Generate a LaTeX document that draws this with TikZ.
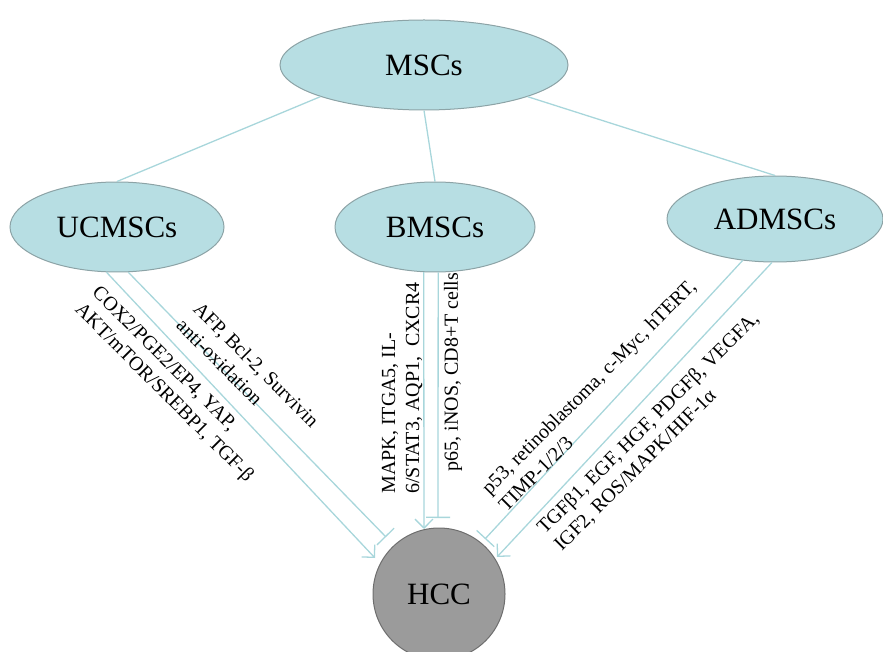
\documentclass[tikz,border=0pt]{standalone}
\usepackage{fontspec}
\setmainfont{Liberation Serif}
\usetikzlibrary{arrows.meta,shapes.geometric,calc}
\definecolor{efill}{HTML}{B7DEE3}
\definecolor{edraw}{HTML}{8CA3A6}
\definecolor{lcol}{HTML}{A8D6DB}
\definecolor{hfill}{HTML}{9B9B9B}
\definecolor{hdraw}{HTML}{6E6E6E}
\begin{document}
\begin{tikzpicture}[x=1pt,y=-1pt,
  cell/.style={ellipse, draw=edraw, fill=efill, line width=1pt, inner sep=0pt, font=\fontsize{31}{37}\selectfont},
  conn/.style={draw=lcol, line width=1.3pt},
  act/.style={conn, -{Straight Barb[length=9pt,width=18pt]}},
  inh/.style={conn, -{Bar[width=24pt]}},
  lab/.style={font=\fontsize{20}{24}\selectfont, align=left, inner sep=0pt},
]
\useasboundingbox (0,0) rectangle (883,652);
\clip (0,0) rectangle (883,652);
% nodes
\node[cell, minimum width=288pt, minimum height=90pt] (msc) at (424,65) {MSCs};
\node[cell, minimum width=214pt, minimum height=90pt] (uc) at (117,227) {UCMSCs};
\node[cell, minimum width=200pt, minimum height=90pt] (bm) at (435,227) {BMSCs};
\node[cell, minimum width=216pt, minimum height=86pt] (ad) at (775,219) {ADMSCs};
\node[circle, draw=hdraw, fill=hfill, minimum size=132pt, inner sep=0pt, line width=1pt,
      font=\fontsize{31}{37}\selectfont] (hcc) at (439,594) {HCC};
% tree connectors
\draw[conn] (msc.197) -- (uc.north);
\draw[conn] (msc.south) -- (bm.north);
\draw[conn] (msc.343) -- (ad.north);
% end points near HCC
\coordinate (ucA) at (375,558);
\coordinate (ucI) at (386,537);
\coordinate (bmA) at (424,529);
\coordinate (bmI) at (438,518);
\coordinate (adI) at (485,539);
\coordinate (adA) at (497,557);
% effect connectors
\draw[act] (uc.257) -- (ucA);
\draw[inh] (uc.284) -- (ucI);
\draw[act] (bm.256) -- (bmA);
\draw[inh] (bm.274) -- (bmI);
\draw[inh] (ad.232) -- (adI);
\draw[act] (ad.266) -- (adA);
% labels
\node[lab, rotate=-45] (l1) at (172,385) {COX2/PGE2/EP4, YAP,\\AKT/mTOR/SREBP1, TGF-β};
\node[lab, rotate=-45] (l2) at (248,373) {AFP, Bcl-2, Survivin\\anti-oxidation};
\node[lab, rotate=90] (l3) at (402,388) {MAPK, ITGA5, IL-\\6/STAT3, AQP1,\ \ CXCR4};
\node[lab, rotate=90] (l4) at (453,372) {p65, iNOS, CD8+T cells};
\node[lab, rotate=45] (l5) at (597,395) {p53, retinoblastoma, c-Myc, hTERT,\\TIMP-1/2/3};
\node[lab, rotate=45] (l6) at (657,432) {TGFβ1, EGF, HGF, PDGFβ, VEGFA,\\IGF2, ROS/MAPK/HIF-1α};
\end{tikzpicture}
\end{document}
